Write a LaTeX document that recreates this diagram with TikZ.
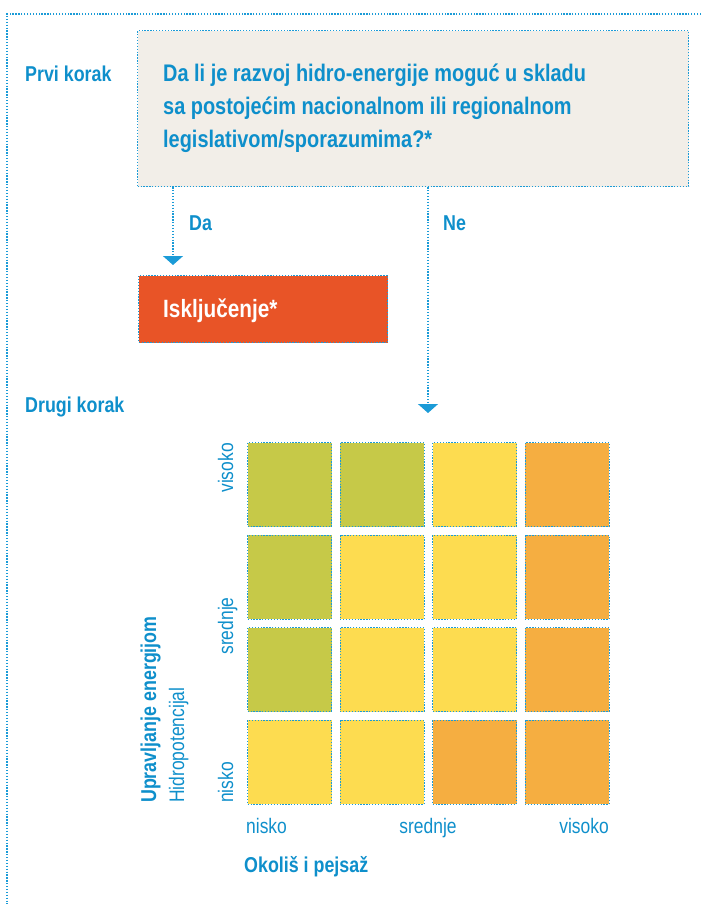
\documentclass[tikz,border=0pt]{standalone}
\usepackage{fontspec}
\setmainfont{Liberation Sans}[FakeStretch=0.83]
\usetikzlibrary{arrows.meta}
\definecolor{tblue}{HTML}{0E8FCB}
\definecolor{dotblue}{HTML}{1B9BD7}
\definecolor{qfill}{HTML}{F2EEE8}
\definecolor{excl}{HTML}{E85427}
\definecolor{cg}{HTML}{C6C948}
\definecolor{cy}{HTML}{FDDC50}
\definecolor{co}{HTML}{F5AE41}
\tikzset{
  dots/.style={draw=dotblue, line width=1.3pt, dash pattern=on 1.3pt off 1.6pt},
  arr/.style={dots, -{Triangle[width=20pt,length=9pt]}},
  cell/.style={dots, minimum width=84pt, minimum height=84pt, inner sep=0pt, anchor=north west},
  boldtxt/.style={text=tblue, font=\bfseries\fontsize{21.5}{26}\selectfont, inner sep=0pt},
  qtxt/.style={text=tblue, font=\bfseries\fontsize{24}{33}\selectfont, inner sep=0pt},
  regtxt/.style={text=tblue, font=\fontsize{21}{24}\selectfont, inner sep=0pt},
}
\begin{document}
\begin{tikzpicture}[x=1pt,y=-1pt]
\useasboundingbox (0,0) rectangle (701,904);
% outer open frame
\coordinate (frTR) at (701,14);
\coordinate (frTL) at (7,14);
\coordinate (frBL) at (7,904);
\draw[dots] (frTR) -- (frTL) -- (frBL);

% step 1
\node[dots, fill=qfill, anchor=north west, minimum width=551pt, minimum height=156pt, inner sep=0pt] (qbox) at (137,30) {};
\node[boldtxt, anchor=base west] (prvi) at (25,82) {Prvi korak};
\node[qtxt, anchor=base west] (q1) at (163,82) {Da li je razvoj hidro-energije moguć u skladu};
\node[qtxt, anchor=base west] (q2) at (163,115) {sa postojećim nacionalnom ili regionalnom};
\node[qtxt, anchor=base west] (q3) at (163,148) {legislativom/sporazumima?*};

% exclusion
\node[dots, fill=excl, anchor=north west, minimum width=249pt, minimum height=67pt, inner sep=0pt] (exbox) at (138,275) {};
\node[qtxt, font=\bfseries\fontsize{25}{30}\selectfont, text=white, anchor=base west] (extxt) at (163,317) {Isključenje*};

% arrows
\coordinate (daX) at (173,0);
\coordinate (neX) at (428,0);
\coordinate (neEnd) at (428,413);
\draw[arr] (qbox.south -| daX) -- ([yshift=10pt]exbox.north -| daX);
\draw[arr] (qbox.south -| neX) -- (neEnd);
\node[boldtxt, anchor=base west] (da) at (189,230) {Da};
\node[boldtxt, anchor=base west] (ne) at (443,230) {Ne};

% step 2
\node[boldtxt, anchor=base west] (drugi) at (25,412) {Drugi korak};

% grid
\foreach \r/\y/\a/\b/\c/\d in {1/442/cg/cg/cy/co, 2/534.5/cg/cy/cy/co, 3/627/cg/cy/cy/co, 4/719.5/cy/cy/co/co}{
  \node[cell, fill=\a] (c\r1) at (247,\y) {};
  \node[cell, fill=\b] (c\r2) at (339.5,\y) {};
  \node[cell, fill=\c] (c\r3) at (432,\y) {};
  \node[cell, fill=\d] (c\r4) at (524.5,\y) {};
}

% vertical axis labels
\node[regtxt, rotate=90, anchor=base east] (yv) at (233,443) {visoko};
\node[regtxt, rotate=90, anchor=base] (ys) at (233,626) {srednje};
\node[regtxt, rotate=90, anchor=base west] (yn) at (233,803) {nisko};
\node[boldtxt, rotate=90, anchor=base west] (ytitle) at (156,803) {Upravljanje energijom};
\node[regtxt, rotate=90, anchor=base west] (ysub) at (184,803) {Hidropotencijal};

% horizontal axis labels
\node[regtxt, anchor=base west] (xn) at (246,833) {nisko};
\node[regtxt, anchor=base] (xs) at (428,833) {srednje};
\node[regtxt, anchor=base east] (xv) at (609,833) {visoko};
\node[boldtxt, anchor=base west] (xtitle) at (244,872) {Okoliš i pejsaž};
\end{tikzpicture}
\end{document}
